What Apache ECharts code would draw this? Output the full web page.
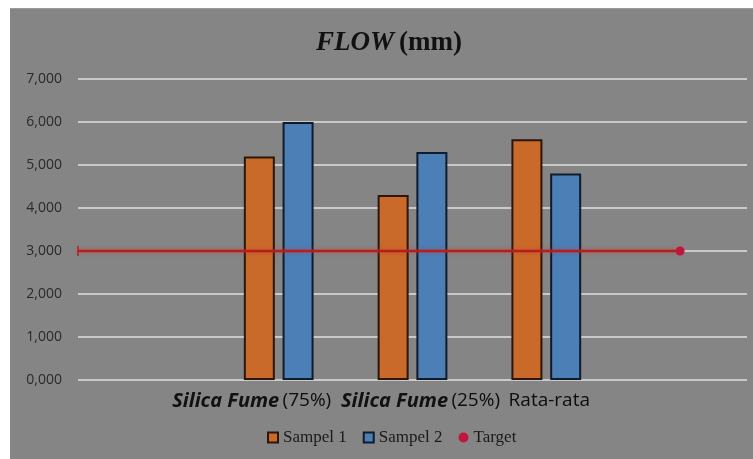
<!DOCTYPE html>
<html>
<head>
<meta charset="utf-8">
<script src="https://cdn.jsdelivr.net/npm/echarts@6/dist/echarts.min.js"></script>
<style>
  html, body { margin: 0; padding: 0; background: #ffffff; }
  #frame { position: absolute; left: 10px; top: 8px; width: 743px; height: 451px; background: #858585; border-top: 1px solid #9a9a9a; box-sizing: border-box; }
  #chart { position: absolute; left: 0; top: 0; width: 753px; height: 459px; }
</style>
</head>
<body>
<div id="frame"></div>
<div id="chart"></div>
<script>
// Flow test results (mm), two samples per mix plus their average, against the target value
const categories = ['', 'Silica Fume|(75%)', 'Silica Fume|(25%)', 'Rata-rata', ''];
const sampel1 = [null, 5.2, 4.3, 5.6, null];
const sampel2 = [null, 6.0, 5.3, 4.8, null];
const target = [null, null, null, null, 3.0];
const yTicks = [0, 1, 2, 3, 4, 5, 6, 7];

const fmt = v => v.toFixed(3).replace('.', ',');

const chart = echarts.init(document.getElementById('chart'), null, { renderer: 'canvas' });

// Category labels: the mix name is italic, the percentage is upright
function catLabel(c) {
  if (!c) return '';
  const parts = c.split('|');
  return parts.length > 1 ? '{it|' + parts[0] + '} {rg|' + parts[1] + '}' : '{rg|' + parts[0] + '}';
}

const catData = categories.map((c, i) => {
  const item = { value: c };
  if (i === 1) item.textStyle = { padding: [0, 54, 0, 0] };
  if (i === 2) item.textStyle = { padding: [0, 0, 0, 16] };
  if (i === 3) item.textStyle = { padding: [0, 0, 0, 6] };
  return item;
});

const barBase = {
  type: 'bar',
  barWidth: 31,
  barGap: '25%',
};

chart.setOption({
  backgroundColor: 'transparent',
  animation: false,
  title: {
    text: '{i|FLOW} {n|(mm)}',
    left: 384,
    textAlign: 'center',
    top: 25,
    textStyle: {
      rich: {
        i: { fontFamily: 'Liberation Serif', fontStyle: 'italic', fontWeight: 'bold', fontSize: 27, color: '#111' },
        n: { fontFamily: 'Liberation Serif', fontWeight: 'bold', fontSize: 27, color: '#111' }
      }
    }
  },
  legend: {
    bottom: 8,
    left: 262,
    itemGap: 16,
    itemWidth: 10,
    itemHeight: 10,
    textStyle: { fontFamily: 'Liberation Serif', fontSize: 17, color: '#1a1a1a' },
    data: [
      { name: 'Sampel 1', icon: 'rect' },
      { name: 'Sampel 2', icon: 'rect' },
      { name: 'Target', icon: 'circle', itemStyle: { borderWidth: 0 } }
    ]
  },
  grid: { left: 78, right: 6, top: 79, bottom: 79, containLabel: false },
  xAxis: {
    type: 'category',
    data: catData,
    axisLine: { show: false },
    axisTick: { show: false },
    axisLabel: {
      interval: 0,
      margin: 11,
      formatter: catLabel,
      rich: {
        it: { fontFamily: 'Open Sans', fontStyle: 'italic', fontWeight: 'bold', fontSize: 20, color: '#111' },
        rg: { fontFamily: 'Open Sans', fontWeight: 'normal', fontSize: 19, color: '#0d0d0d' }
      }
    }
  },
  yAxis: {
    type: 'value',
    min: yTicks[0],
    max: yTicks[yTicks.length - 1],
    interval: 1,
    axisLine: { show: false },
    axisTick: { show: false },
    splitLine: { lineStyle: { color: '#c9c9c9', width: 2 } },
    axisLabel: {
      margin: 16,
      formatter: fmt,
      fontFamily: 'Open Sans',
      fontSize: 14,
      color: '#2a2a2a'
    }
  },
  series: [
    Object.assign({}, barBase, {
      name: 'Sampel 1',
      data: sampel1,
      itemStyle: { color: '#c96a2b', borderColor: '#2b1608', borderWidth: 2 }
    }),
    Object.assign({}, barBase, {
      name: 'Sampel 2',
      data: sampel2,
      itemStyle: { color: '#4b7fb6', borderColor: '#101c2c', borderWidth: 2 }
    }),
    {
      // horizontal error bar running from the target point back to the axis
      type: 'custom',
      name: 'Target bar',
      z: 5,
      silent: true,
      data: target.map((v, i) => [i, v]).filter(d => d[1] != null),
      renderItem: function (params, api) {
        const p = api.coord([api.value(0), api.value(1)]);
        const x0 = params.coordSys.x;
        const style = { stroke: '#b21f1f', lineWidth: 2.5, shadowBlur: 4, shadowColor: 'rgba(220,40,40,0.6)' };
        return {
          type: 'group',
          children: [
            { type: 'line', shape: { x1: x0, y1: p[1], x2: p[0], y2: p[1] }, style: style },
            { type: 'line', shape: { x1: x0, y1: p[1] - 5, x2: x0, y2: p[1] + 5 }, style: { stroke: '#b21f1f', lineWidth: 1.5 } }
          ]
        };
      }
    },
    {
      name: 'Target',
      type: 'line',
      z: 6,
      data: target,
      symbol: 'circle',
      symbolSize: 9,
      showSymbol: true,
      lineStyle: { width: 0 },
      itemStyle: { color: '#c0163e' }
    }
  ]
});
</script>
</body>
</html>
